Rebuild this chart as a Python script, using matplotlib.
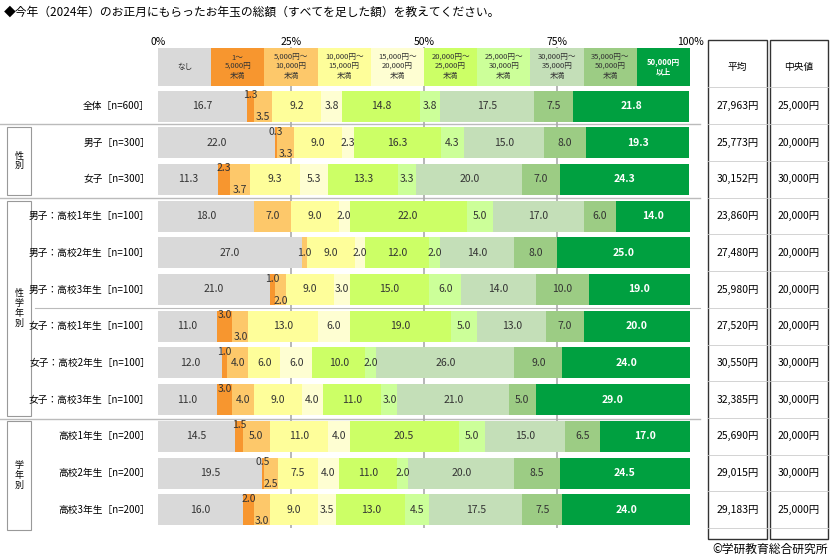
import numpy as np
import matplotlib

matplotlib.use("Agg")
import matplotlib.pyplot as plt
from matplotlib.patches import Rectangle

plt.rcParams["font.family"] = ["Noto Sans CJK JP", "DejaVu Sans"]

title = "◆今年（2024年）のお正月にもらったお年玉の総額（すべてを足した額）を教えてください。"
categories = ["なし", "1～\n5,000円\n未満", "5,000円～\n10,000円\n未満", "10,000円～\n15,000円\n未満",
              "15,000円～\n20,000円\n未満", "20,000円～\n25,000円\n未満", "25,000円～\n30,000円\n未満",
              "30,000円～\n35,000円\n未満", "35,000円～\n50,000円\n未満", "50,000円\n以上"]
colors = ["#d9d9d9", "#f7962f", "#fdc86a", "#fefe9a", "#fefed2", "#ccff66",
          "#ccff99", "#c4dfb8", "#9ccc84", "#00a040"]
row_labels = ["全体［n=600］", "男子［n=300］", "女子［n=300］",
              "男子：高校1年生［n=100］", "男子：高校2年生［n=100］", "男子：高校3年生［n=100］",
              "女子：高校1年生［n=100］", "女子：高校2年生［n=100］", "女子：高校3年生［n=100］",
              "高校1年生［n=200］", "高校2年生［n=200］", "高校3年生［n=200］"]
values = [
    [16.7, 1.3, 3.5, 9.2, 3.8, 14.8, 3.8, 17.5, 7.5, 21.8],
    [22.0, 0.3, 3.3, 9.0, 2.3, 16.3, 4.3, 15.0, 8.0, 19.3],
    [11.3, 2.3, 3.7, 9.3, 5.3, 13.3, 3.3, 20.0, 7.0, 24.3],
    [18.0, 0.0, 7.0, 9.0, 2.0, 22.0, 5.0, 17.0, 6.0, 14.0],
    [27.0, 0.0, 1.0, 9.0, 2.0, 12.0, 2.0, 14.0, 8.0, 25.0],
    [21.0, 1.0, 2.0, 9.0, 3.0, 15.0, 6.0, 14.0, 10.0, 19.0],
    [11.0, 3.0, 3.0, 13.0, 6.0, 19.0, 5.0, 13.0, 7.0, 20.0],
    [12.0, 1.0, 4.0, 6.0, 6.0, 10.0, 2.0, 26.0, 9.0, 24.0],
    [11.0, 3.0, 4.0, 9.0, 4.0, 11.0, 3.0, 21.0, 5.0, 29.0],
    [14.5, 1.5, 5.0, 11.0, 4.0, 20.5, 5.0, 15.0, 6.5, 17.0],
    [19.5, 0.5, 2.5, 7.5, 4.0, 11.0, 2.0, 20.0, 8.5, 24.5],
    [16.0, 2.0, 3.0, 9.0, 3.5, 13.0, 4.5, 17.5, 7.5, 24.0],
]
means = ["27,963円", "25,773円", "30,152円", "23,860円", "27,480円", "25,980円",
         "27,520円", "30,550円", "32,385円", "25,690円", "29,015円", "29,183円"]
medians = ["25,000円", "20,000円", "30,000円", "20,000円", "20,000円", "20,000円",
           "20,000円", "30,000円", "30,000円", "20,000円", "30,000円", "25,000円"]
groups = [("性別", 127, 195), ("性学年別", 201, 416), ("学年別", 421, 530)]

W, H = 832, 559
fig = plt.figure(figsize=(W / 100, H / 100), dpi=100)
# overlay axes in pixel coordinates for frames and side text
bg = fig.add_axes([0, 0, 1, 1])
bg.set_xlim(0, W)
bg.set_ylim(H, 0)
bg.axis("off")

x0, x1, ytop, ybot = 158, 690, 47, 528
ax = fig.add_axes([x0 / W, 1 - ybot / H, (x1 - x0) / W, (ybot - ytop) / H])
ax.set_xlim(0, 100)
ax.set_ylim(ybot, ytop)
ax.axis("off")

for g in [25, 50, 75]:
    ax.axvline(g, color="#aaaaaa", lw=1.2, zorder=0)
for g in [0, 25, 50, 75, 100]:
    bg.text(x0 + (x1 - x0) * g / 100, 42, f"{g}%", ha="center", va="center", fontsize=7.5)

# header legend row
for i, (c, lab) in enumerate(zip(categories, colors)):
    pass
ax.barh(67, [10] * 10, left=np.arange(0, 100, 10), height=38, color=colors, zorder=2)
for i, lab in enumerate(categories):
    ax.text(i * 10 + 5, 67, lab, ha="center", va="center", fontsize=5.5,
            color="white" if i == 9 else "#333333", fontweight="bold" if i == 9 else "normal",
            linespacing=1.2, zorder=3)

ys = 106 + np.arange(12) * 36.7
for y, vals, lab in zip(ys, values, row_labels):
    v = np.array(vals)
    lefts = np.concatenate([[0], np.cumsum(v)[:-1]])
    ax.barh(y, v, left=lefts, height=31, color=colors, zorder=2)
    for i, (l, w) in enumerate(zip(lefts, v)):
        if w == 0:
            continue
        cx, cy = l + w / 2, y
        if i == 1 and w < 4:
            cy = y - 11
        elif i == 2 and w < 4 and v[1] > 0:
            cy = y + 11
        ax.text(cx, cy, f"{w:.1f}", ha="center", va="center", fontsize=7.5,
                color="white" if i == 9 else "#333333",
                fontweight="bold" if i == 9 else "normal", zorder=3)
    bg.text(150, y, lab, ha="right", va="center", fontsize=7)

# separators
for sy in [124, 198, 418.5]:
    bg.plot([0, 700], [sy, sy], color="#bbbbbb", lw=1)
bg.plot([35, 700], [308, 308], color="#bbbbbb", lw=0.8)

for name, ya, yb in groups:
    bg.add_patch(Rectangle((7, ya), 24, yb - ya, fill=False, ec="#999999", lw=0.8))
    bg.text(19, (ya + yb) / 2, "\n".join(name), ha="center", va="center", fontsize=6.5, linespacing=1.1)

# mean / median boxes
for bx, bw, head, col in [(708, 59, "平均", means), (770, 58, "中央値", medians)]:
    bg.add_patch(Rectangle((bx, 40), bw, 499, fill=False, ec="#333333", lw=1))
    bg.text(bx + bw / 2, 67, head, ha="center", va="center", fontsize=7)
    for y, s in zip(ys, col):
        bg.text(bx + bw / 2, y, s, ha="center", va="center", fontsize=7.5)
        bg.plot([bx, bx + bw], [y + 18.3, y + 18.3], color="#cccccc", lw=0.6)
    bg.plot([bx, bx + bw], [87, 87], color="#cccccc", lw=0.6)

bg.text(4, 12, title, ha="left", va="center", fontsize=8.5)
bg.text(828, 549, "©学研教育総合研究所", ha="right", va="center", fontsize=8.5)

fig.savefig("out.png", dpi=100)
